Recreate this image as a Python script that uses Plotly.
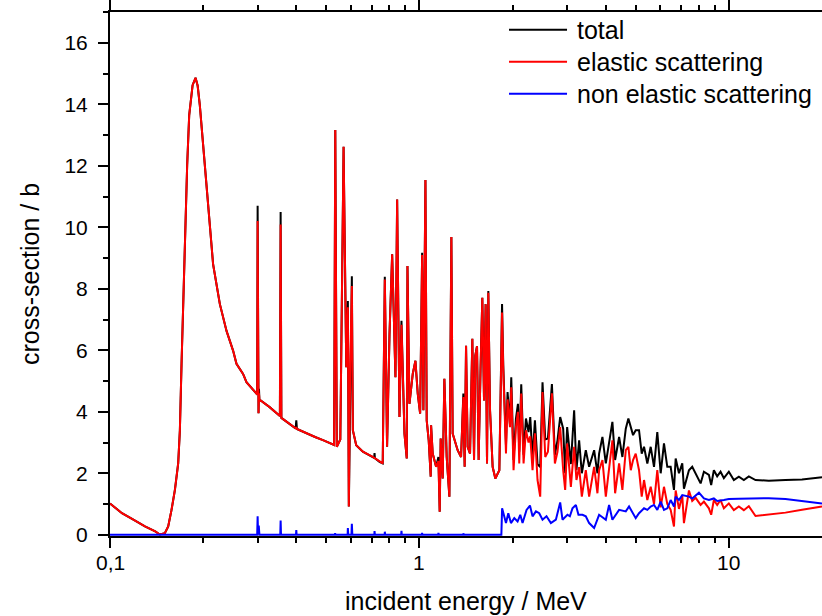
import math
import plotly.graph_objects as go

# ---------------- data ----------------
# common energy grid (MeV) for total and elastic scattering
energy = [
    0.1000, 0.1093, 0.1186, 0.1297, 0.1400, 0.1449, 0.1504, 0.1542, 0.1580, 0.1621,
    0.1661, 0.1682, 0.1703, 0.1724, 0.1745, 0.1776, 0.1803, 0.1849, 0.1890, 0.1920,
    0.1951, 0.2025, 0.2101, 0.2154, 0.2265, 0.2380, 0.2499, 0.2563, 0.2692, 0.2761,
    0.2974, 0.2990, 0.3000, 0.3010, 0.3020, 0.3030, 0.3040, 0.3280, 0.3540, 0.3560,
    0.3580, 0.3980, 0.4000, 0.4020, 0.4300, 0.4600, 0.4900, 0.5180,
    0.5300, 0.5346, 0.5408, 0.5550, 0.5687, 0.5802, 0.5871, 0.5914, 0.5977, 0.6048,
    0.6093, 0.6248, 0.6564, 0.7071, 0.7140, 0.7160, 0.7180, 0.7430, 0.7610, 0.7729,
    0.7860, 0.8003, 0.8163, 0.8366, 0.8472, 0.8620, 0.8749, 0.8946, 0.9100, 0.9148,
    0.9284, 0.9515, 0.9707, 0.9875, 1.0053, 1.0203, 1.0301, 1.0457, 1.0557, 1.0715,
    1.0876, 1.0906, 1.1038, 1.1321, 1.1516, 1.1628, 1.1714, 1.1891, 1.2040, 1.2249,
    1.2497, 1.2683, 1.2806, 1.3290, 1.3632, 1.3866, 1.4001, 1.4147, 1.4317, 1.4574,
    1.4825, 1.5014, 1.5157, 1.5351, 1.5536, 1.5767, 1.5968, 1.6172, 1.6367, 1.6538,
    1.6699, 1.6912, 1.7243, 1.7592, 1.8126, 1.8493, 1.8664, 1.9042, 1.9267, 1.9616,
    1.9806, 2.0146, 2.0507, 2.0817, 2.1019, 2.1333, 2.1705, 2.2093, 2.2525, 2.2812,
    2.3204, 2.3620, 2.4082, 2.4569, 2.4992, 2.5503, 2.6018, 2.6802, 2.7402, 2.7937,
    2.8502, 2.9146, 2.9580, 3.0021, 3.0862, 3.1623, 3.2168, 3.2819, 3.3484, 3.4490,
    3.5358, 3.6695, 3.7607, 3.8080, 3.9030, 4.0030, 4.1020, 4.2034, 4.2896, 4.4187,
    4.5280, 4.6440, 4.7348, 4.8197, 4.9024, 5.0003, 5.1251, 5.2290, 5.3190, 5.4516,
    5.5900, 5.7302, 5.8716, 6.0218, 6.1707, 6.3246, 6.4853, 6.6469, 6.7316, 6.8984,
    7.0706, 7.1590, 7.4302, 7.6141, 7.8093, 8.1040, 8.3059, 8.6193, 8.7675, 8.9450,
    9.1677, 9.4006, 9.6360, 10.000, 10.378, 10.772, 11.179, 11.602, 12.194, 13.459,
    15.238, 17.239, 20.000,
]

elastic = [
    1.02, 0.70, 0.50, 0.27, 0.11, 0.01, 0.05, 0.27, 0.80, 1.46,
    2.32, 3.40, 5.56, 7.71, 9.87, 12.03, 13.65, 14.62, 14.86, 14.60,
    13.97, 12.03, 9.87, 8.79, 7.50, 6.63, 5.99, 5.56, 5.23, 4.96,
    4.59, 4.56, 10.20, 4.52, 3.95, 4.60, 4.40, 4.15, 3.86, 10.09,
    3.80, 3.46, 3.50, 3.44, 3.30, 3.18, 3.07, 2.97,
    2.92, 13.16, 2.86, 3.10, 12.62, 5.45, 7.40, 0.92, 5.56, 8.09,
    3.40, 2.91, 2.70, 2.53, 2.50, 2.50, 2.49, 2.37, 2.32, 8.30,
    2.86, 6.50, 9.12, 5.12, 10.90, 3.83, 6.83, 3.29, 2.48, 8.74,
    4.26, 5.23, 5.66, 4.59, 3.94, 9.10, 4.05, 11.54, 3.72, 3.07,
    1.89, 3.56, 2.64, 2.21, 2.40, 0.75, 3.13, 1.83, 5.07, 2.53,
    1.24, 9.68, 3.29, 2.75, 2.53, 4.48, 2.21, 6.15, 2.86, 2.64,
    6.37, 2.43, 5.83, 6.13, 2.43, 5.50, 7.71, 4.37, 7.50, 2.32,
    7.87, 4.05, 2.21, 1.83, 2.10, 7.23, 5.34, 2.64, 4.40, 3.50,
    4.80, 2.10, 3.50, 4.00, 2.32, 4.59, 2.32, 3.40, 3.00, 3.20,
    2.10, 3.30, 1.78, 1.24, 4.64, 2.53, 2.70, 4.60, 2.32, 2.70,
    3.50, 2.10, 1.46, 2.97, 1.56, 2.86, 1.78, 2.20, 1.24, 2.10,
    1.24, 2.21, 1.35, 2.10, 2.43, 1.24, 2.21, 3.07, 1.35, 2.32,
    1.46, 2.75, 2.86, 2.10, 2.43, 2.64, 2.10, 1.24, 1.78, 1.13,
    1.56, 1.00, 2.10, 0.89, 1.56, 1.00, 0.81, 0.27, 1.44, 0.84,
    1.27, 0.38, 1.44, 1.10, 1.20, 0.97, 1.08, 0.86, 0.65, 1.13,
    0.97, 1.13, 0.86, 1.02, 0.80, 0.92, 0.80, 0.93, 0.61, 0.65,
    0.72, 0.81, 0.92,
]

total = [
    1.02, 0.70, 0.50, 0.27, 0.11, 0.01, 0.05, 0.27, 0.80, 1.46,
    2.32, 3.40, 5.56, 7.71, 9.87, 12.03, 13.65, 14.62, 14.86, 14.60,
    13.97, 12.03, 9.87, 8.79, 7.50, 6.63, 5.99, 5.56, 5.23, 4.96,
    4.59, 4.56, 10.70, 4.52, 3.95, 4.75, 4.40, 4.15, 3.86, 10.50,
    3.80, 3.46, 3.72, 3.44, 3.30, 3.18, 3.07, 2.97,
    2.92, 13.16, 2.86, 3.10, 12.62, 5.45, 7.60, 0.92, 5.56, 8.41,
    3.40, 2.91, 2.70, 2.53, 2.50, 2.66, 2.49, 2.37, 2.32, 8.39,
    2.86, 6.50, 9.12, 5.12, 10.90, 3.83, 6.96, 3.29, 2.48, 8.74,
    4.26, 5.23, 5.66, 4.59, 3.94, 9.17, 4.05, 11.54, 3.72, 3.07,
    1.89, 3.56, 2.64, 2.21, 2.53, 0.75, 3.13, 1.83, 5.07, 2.53,
    1.24, 9.68, 3.29, 2.75, 2.53, 4.59, 2.21, 6.15, 2.86, 2.64,
    6.37, 2.43, 5.83, 6.13, 2.43, 5.50, 7.71, 4.37, 7.50, 2.32,
    7.93, 4.05, 2.21, 1.83, 2.10, 7.50, 5.50, 2.90, 4.64, 3.60,
    5.12, 2.43, 3.78, 4.26, 2.70, 4.89, 2.60, 3.78, 3.34, 3.83,
    2.50, 3.72, 2.30, 2.20, 4.96, 3.10, 3.13, 4.90, 2.60, 3.07,
    3.83, 3.45, 2.00, 3.50, 2.30, 4.05, 2.10, 3.07, 2.00, 2.75,
    2.21, 2.75, 2.00, 2.64, 3.18, 2.32, 2.97, 3.67, 2.43, 3.18,
    2.53, 3.45, 3.78, 3.50, 3.24, 3.40, 3.40, 2.64, 2.86, 2.32,
    2.86, 2.21, 3.34, 2.00, 2.97, 2.21, 2.21, 1.46, 2.48, 2.00,
    2.32, 1.50, 2.10, 2.21, 2.00, 1.67, 2.05, 1.95, 1.62, 2.10,
    1.90, 2.05, 1.84, 2.05, 1.78, 1.89, 1.78, 1.90, 1.78, 1.76,
    1.78, 1.80, 1.87,
]

# non elastic scattering, own energy grid (MeV)
energy_nonel = [
    0.1000, 0.2990, 0.3000, 0.3010, 0.3025, 0.3040, 0.3550, 0.3560, 0.3570, 0.3990,
    0.4000, 0.4010, 0.5330, 0.5340, 0.5350, 0.5860, 0.5871, 0.5890, 0.6030, 0.6048,
    0.6070, 0.7150, 0.7160, 0.7180, 0.7720, 0.7730, 0.7750, 0.8730, 0.8750, 0.8770,
    1.0190, 1.0200, 1.0220, 1.1500, 1.1520, 1.1550, 1.3860, 1.3870, 1.3890, 1.8400,
    1.8500, 1.9042, 1.9374, 1.9761, 2.0256, 2.0757, 2.1178, 2.1542, 2.2192, 2.2762,
    2.3204, 2.3799, 2.4387, 2.4992, 2.5743, 2.6599, 2.7606, 2.8502, 2.9000, 3.0090,
    3.0634, 3.1230, 3.2030, 3.2657, 3.3642, 3.4490, 3.5358, 3.6695, 3.8080, 4.0030,
    4.1020, 4.2034, 4.4187, 4.6440, 4.7588, 5.0003, 5.1251, 5.3190, 5.4516, 5.5900,
    5.7302, 5.8716, 6.0218, 6.1707, 6.3246, 6.4853, 6.6469, 6.7316, 6.8984, 7.0706,
    7.4302, 7.6141, 7.8093, 8.0036, 8.3059, 8.6193, 8.9450, 9.1677, 9.6360, 10.000,
    10.772, 12.194, 13.459, 15.238, 17.239, 20.000,
]

nonelastic = [
    0.00, 0.00, 0.60, 0.00, 0.30, 0.00, 0.00, 0.46, 0.00, 0.00,
    0.15, 0.00, 0.00, 0.05, 0.00, 0.00, 0.22, 0.00, 0.00, 0.36,
    0.00, 0.00, 0.12, 0.00, 0.00, 0.10, 0.00, 0.00, 0.13, 0.00,
    0.00, 0.06, 0.00, 0.00, 0.06, 0.00, 0.00, 0.05, 0.00, 0.00,
    0.86, 0.38, 0.70, 0.38, 0.54, 0.43, 0.65, 0.38, 0.81, 0.95,
    0.60, 0.76, 0.70, 0.49, 0.60, 0.38, 0.49, 1.05, 0.49, 0.65,
    0.60, 0.86, 0.97, 0.65, 0.65, 0.60, 0.38, 0.22, 0.65, 0.49,
    0.97, 0.49, 0.81, 0.76, 0.92, 0.54, 0.70, 0.86, 0.81, 0.92,
    0.97, 0.81, 1.08, 0.81, 0.86, 1.13, 0.92, 1.24, 1.13, 1.29,
    1.24, 1.18, 1.29, 1.37, 1.18, 1.13, 1.18, 1.10, 1.13, 1.16,
    1.17, 1.18, 1.19, 1.16, 1.10, 1.02,
]

series_names = ["total", "elastic scattering", "non elastic scattering"]
series_colors = ["#000000", "#ff0000", "#0000ff"]

x_tickvals = [0.1, 1, 10]
x_ticktext = ["0,1", "1", "10"]
x_minor = [0.2, 0.3, 0.4, 0.5, 0.6, 0.7, 0.8, 0.9, 2, 3, 4, 5, 6, 7, 8, 9]
y_tickvals = [0, 2, 4, 6, 8, 10, 12, 14, 16]

# ---------------- figure ----------------
FONT = "Liberation Sans, Arial, sans-serif"
fig = go.Figure()
xs = [energy, energy, energy_nonel]
ys = [total, elastic, nonelastic]
for name, col, x, y in zip(series_names, series_colors, xs, ys):
    fig.add_trace(go.Scatter(x=x, y=y, mode="lines", name=name,
                             line=dict(color=col, width=2), showlegend=False))

# hand-drawn legend (long line samples as in the original)
leg_y = [0.966, 0.905, 0.844]
for name, col, yy in zip(series_names, series_colors, leg_y):
    fig.add_shape(type="line", xref="paper", yref="paper", x0=0.5604, x1=0.6419,
                  y0=yy, y1=yy, line=dict(color=col, width=2))
    fig.add_annotation(xref="paper", yref="paper", x=0.6531, y=yy, text=name,
                       showarrow=False, xanchor="left", yanchor="middle",
                       font=dict(family=FONT, size=25, color="black"))

# x tick labels (placed as annotations at the tick positions of the log axis)
for v, t in zip(x_tickvals, x_ticktext):
    fig.add_annotation(xref="x", yref="paper", x=math.log10(v), y=-0.05,
                       text=t, showarrow=False, xanchor="center",
                       yanchor="middle",
                       font=dict(family=FONT, size=21, color="black"))

# axis titles
fig.add_annotation(xref="paper", yref="paper", x=0.5, y=-0.124,
                   text="incident energy / MeV", showarrow=False,
                   xanchor="center", yanchor="middle",
                   font=dict(family=FONT, size=25, color="black"))
fig.add_annotation(xref="paper", yref="paper", x=-0.1124, y=0.5,
                   text="cross-section / b", showarrow=False, textangle=-90,
                   xanchor="center", yanchor="middle",
                   font=dict(family=FONT, size=25, color="black"))

fig.update_layout(
    width=822, height=616,
    margin=dict(l=110, r=0, t=10, b=80),
    paper_bgcolor="white", plot_bgcolor="white",
    font=dict(family=FONT, size=21, color="black"),
    showlegend=False,
)
fig.update_xaxes(
    type="log", range=[-1, 1.30103],
    showgrid=False, zeroline=False,
    showline=True, linecolor="black", linewidth=2, mirror="ticks",
    ticks="outside", ticklen=10, tickwidth=2, tickcolor="black",
    tickmode="array", tickvals=x_tickvals, ticktext=x_ticktext,
    showticklabels=False,
    minor=dict(tickmode="array", tickvals=x_minor, ticks="outside",
               ticklen=5, tickwidth=2, tickcolor="black", showgrid=False),
    layer="below traces",
)
fig.update_yaxes(
    range=[-0.04, 17],
    showgrid=False, zeroline=False,
    showline=True, linecolor="black", linewidth=2,
    ticks="outside", ticklen=10, tickwidth=2, tickcolor="black",
    tickmode="array", tickvals=y_tickvals,
    ticklabelstandoff=6,
    minor=dict(dtick=1, ticks="outside", ticklen=5, tickwidth=2,
               tickcolor="black", showgrid=False),
    layer="below traces",
    tickfont=dict(family=FONT, size=21, color="black"),
)

fig.write_html("out.html")
